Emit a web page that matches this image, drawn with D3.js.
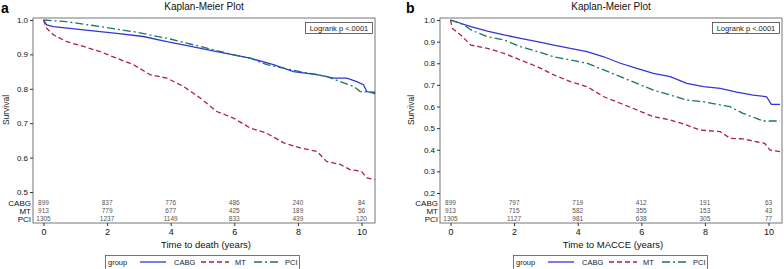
<!DOCTYPE html>
<html>
<head>
<meta charset="utf-8">
<script src="https://cdn.jsdelivr.net/npm/d3@7"></script>
<style>
  body { margin: 0; background: #fff; }
  svg { display: block; font-family: "Liberation Sans", Arial, sans-serif; }
</style>
</head>
<body>
<div id="chart"></div>
<script>
// groups and colours
var groups = ["CABG", "MT", "PCI"];
var riskTimes = [0, 2, 4, 6, 8, 10];

// panel a: time to death, survival estimates [years, survival]
var deathCABG = [[0,1],[0.1,0.986],[0.31,0.981],[1.26,0.971],[2.3,0.961],[3.14,0.952],[3.88,0.937],[4.4,0.928],[5.45,0.908],[6.5,0.889],[7.23,0.87],[7.86,0.85],[8.6,0.841],[9.12,0.831],[9.54,0.831],[9.85,0.821],[10.06,0.812],[10.17,0.792],[10.43,0.786]];
var deathMT = [[0,1],[0.1,0.976],[0.31,0.957],[0.73,0.937],[1.26,0.923],[1.78,0.908],[2.3,0.889],[2.83,0.87],[3.35,0.841],[3.88,0.831],[4.4,0.807],[4.93,0.773],[5.45,0.734],[5.97,0.715],[6.5,0.686],[7.02,0.671],[7.55,0.643],[8.07,0.628],[8.6,0.618],[8.9,0.589],[9.33,0.58],[9.64,0.565],[10.0,0.56],[10.17,0.541],[10.43,0.536]];
var deathPCI = [[0,1],[0.73,0.995],[1.78,0.981],[2.83,0.966],[3.88,0.947],[4.93,0.923],[5.97,0.899],[6.5,0.889],[7.02,0.87],[8.07,0.85],[8.9,0.836],[9.33,0.821],[9.75,0.807],[9.96,0.792],[10.43,0.79]];
var deathRisk = {CABG: [899, 837, 776, 486, 240, 84], MT: [913, 779, 677, 425, 189, 56], PCI: [1305, 1237, 1149, 833, 439, 120]};
var deathYTicks = [0.5, 0.6, 0.7, 0.8, 0.9, 1.0];

// panel b: time to MACCE
var macceCABG = [[0,1],[0.64,0.969],[1.16,0.949],[1.68,0.931],[2.2,0.915],[2.73,0.9],[3.25,0.884],[3.77,0.869],[4.29,0.854],[4.82,0.83],[5.34,0.8],[5.86,0.776],[6.38,0.753],[6.91,0.738],[7.43,0.707],[7.96,0.692],[8.48,0.684],[9.0,0.666],[9.52,0.653],[9.94,0.645],[10.09,0.61],[10.36,0.61]];
var macceMT = [[0,1],[0.06,0.961],[0.32,0.931],[0.64,0.884],[1.16,0.869],[1.68,0.846],[2.2,0.815],[2.73,0.784],[3.25,0.746],[3.77,0.715],[4.29,0.692],[4.82,0.645],[5.34,0.615],[5.86,0.584],[6.38,0.553],[6.91,0.538],[7.43,0.514],[7.85,0.491],[8.48,0.484],[8.79,0.453],[9.2,0.45],[9.62,0.437],[9.88,0.43],[10.04,0.399],[10.36,0.391]];
var maccePCI = [[0,1],[0.43,0.977],[0.64,0.954],[1.16,0.923],[1.68,0.908],[2.2,0.877],[2.73,0.854],[3.25,0.83],[3.77,0.815],[4.29,0.8],[4.82,0.769],[5.34,0.738],[5.86,0.707],[6.38,0.676],[6.91,0.653],[7.43,0.63],[7.96,0.622],[8.48,0.607],[8.79,0.599],[9.2,0.568],[9.62,0.545],[9.83,0.533],[10.36,0.533]];
var macceRisk = {CABG: [899, 797, 719, 412, 191, 63], MT: [913, 715, 582, 355, 153, 43], PCI: [1305, 1127, 981, 638, 305, 77]};
var macceYTicks = [0.2, 0.3, 0.4, 0.5, 0.6, 0.7, 0.8, 0.9, 1.0];

var colors = {CABG: "#3535d4", MT: "#b0213d", PCI: "#19775f"};
var dashes = {CABG: null, MT: "5,3", PCI: "8,3,2,3"};

var svg = d3.select("#chart").append("svg")
  .attr("width", 784)
  .attr("height", 269);

function drawPanel(p) {
  var g = svg.append("g");
  var x = d3.scaleLinear().domain([0, 10]).range([p.left + 10.5, p.left + 328.5]);
  var y = d3.scaleLinear().domain([p.yTicks[0], 1]).range([p.yBottom, 20]);
  var fl = p.left, fr = p.left + 342, ft = 18, fb = 223;

  // panel letter + title
  g.append("text").attr("x", p.letterX).attr("y", 13)
    .attr("font-size", 14).attr("font-weight", "bold").text(p.letter);
  g.append("text").attr("x", (fl + fr) / 2).attr("y", 9.5)
    .attr("text-anchor", "middle").attr("font-size", 10).attr("fill", "#111")
    .text("Kaplan-Meier Plot");

  // frame
  g.append("rect").attr("x", fl).attr("y", ft).attr("width", fr - fl).attr("height", fb - ft)
    .attr("fill", "none").attr("stroke", "#777").attr("stroke-width", 1);

  // y axis
  var yAxis = g.append("g").attr("transform", "translate(" + fl + ",0)")
    .call(d3.axisLeft(y).tickValues(p.yTicks).tickFormat(d3.format(".1f")).tickSize(3).tickPadding(2));
  yAxis.select(".domain").remove();
  yAxis.selectAll("line").attr("stroke", "#333");
  yAxis.selectAll("text").attr("font-size", 8).attr("fill", "#111").attr("font-family", "Liberation Sans, Arial, sans-serif");

  // x axis
  var xAxis = g.append("g").attr("transform", "translate(0," + fb + ")")
    .call(d3.axisBottom(x).tickValues(riskTimes).tickSize(3).tickPadding(3));
  xAxis.select(".domain").remove();
  xAxis.selectAll("line").attr("stroke", "#333");
  xAxis.selectAll("text").attr("font-size", 9).attr("fill", "#111").attr("font-family", "Liberation Sans, Arial, sans-serif");

  g.append("text").attr("x", (fl + fr) / 2 + 2).attr("y", 248)
    .attr("text-anchor", "middle").attr("font-size", 9.5).attr("fill", "#111").text(p.xLabel);
  g.append("text").attr("transform", "translate(" + (p.letterX + 8) + ",110) rotate(-90)")
    .attr("text-anchor", "middle").attr("font-size", 8.5).attr("fill", "#222").text("Survival");

  // curves
  var line = d3.line().x(function(d) { return x(d[0]); }).y(function(d) { return y(d[1]); });
  groups.forEach(function(k) {
    g.append("path").datum(p.curves[k])
      .attr("fill", "none")
      .attr("stroke", colors[k])
      .attr("stroke-width", 1.3)
      .attr("stroke-dasharray", dashes[k])
      .attr("d", line);
  });

  // logrank box
  g.append("rect").attr("x", fr - 69.5).attr("y", 22.5).attr("width", 67).attr("height", 11)
    .attr("fill", "#fff").attr("stroke", "#444").attr("stroke-width", 0.8);
  g.append("text").attr("x", fr - 36).attr("y", 31).attr("text-anchor", "middle")
    .attr("font-size", 7.5).attr("fill", "#222").text("Logrank p <.0001");

  // at-risk table
  groups.forEach(function(k, i) {
    var ry = 205.5 + i * 8;
    g.append("text").attr("x", fl - 2).attr("y", ry).attr("text-anchor", "end")
      .attr("font-size", 8).attr("fill", "#111").text(k);
    g.selectAll(null).data(p.risk[k]).enter().append("text")
      .attr("x", function(d, j) { return x(riskTimes[j]); })
      .attr("y", ry - 1)
      .attr("text-anchor", "middle").attr("font-size", 6.5).attr("fill", "#555")
      .text(function(d) { return d; });
  });

  // legend
  var lx = p.legendX;
  g.append("rect").attr("x", lx + 0.5).attr("y", 255.5).attr("width", 194).attr("height", 14)
    .attr("fill", "#fff").attr("stroke", "#555").attr("stroke-width", 0.8);
  g.append("text").attr("x", lx + 3).attr("y", 265).attr("font-size", 7.5).attr("fill", "#222").text("group");
  var items = [{k: "CABG", x1: 35, x2: 61, tx: 69}, {k: "MT", x1: 96, x2: 124, tx: 130}, {k: "PCI", x1: 149, x2: 176, tx: 180}];
  items.forEach(function(it) {
    g.append("line").attr("x1", lx + it.x1).attr("x2", lx + it.x2).attr("y1", 262).attr("y2", 262)
      .attr("stroke", colors[it.k]).attr("stroke-width", 1.3).attr("stroke-dasharray", dashes[it.k]);
    g.append("text").attr("x", lx + it.tx).attr("y", 265).attr("font-size", 7.5).attr("fill", "#222").text(it.k);
  });
}

drawPanel({
  letter: "a", letterX: 1, left: 33, yTicks: deathYTicks, yBottom: 192,
  xLabel: "Time to death (years)", legendX: 105,
  curves: {CABG: deathCABG, MT: deathMT, PCI: deathPCI}, risk: deathRisk
});
drawPanel({
  letter: "b", letterX: 406, left: 440, yTicks: macceYTicks, yBottom: 193,
  xLabel: "Time to MACCE (years)", legendX: 513,
  curves: {CABG: macceCABG, MT: macceMT, PCI: maccePCI}, risk: macceRisk
});
</script>
</body>
</html>
